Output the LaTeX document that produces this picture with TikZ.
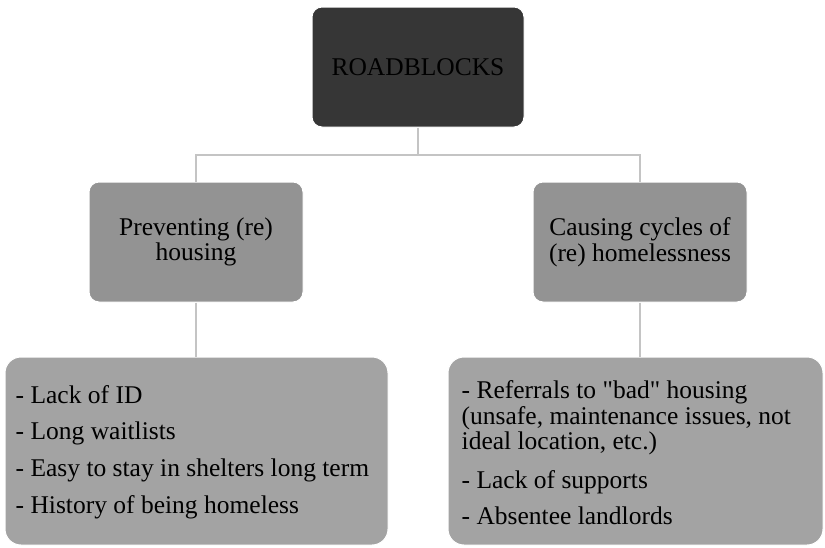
\documentclass[tikz,border=0pt]{standalone}
\usepackage{fontspec}
\setmainfont{Liberation Serif}[Ligatures=TeXOff]
\definecolor{rootfill}{HTML}{363636}
\definecolor{midfill}{HTML}{939393}
\definecolor{leaffill}{HTML}{A3A3A3}
\definecolor{linkgray}{HTML}{C4C4C4}
\tikzset{
  boxfont/.style={font=\fontsize{25.5}{25.5}\selectfont},
  box/.style={rectangle, rounded corners=10pt, draw=white, line width=1pt,
    inner sep=0pt, text=black, boxfont},
  rootbox/.style={box, fill=rootfill, minimum width=212pt, minimum height=120pt},
  midbox/.style={box, fill=midfill, minimum width=214pt, minimum height=120pt, align=center},
  leafbox/.style={box, fill=leaffill, rounded corners=16pt, minimum height=188pt},
  listtext/.style={inner sep=0pt, text=black, align=left, boxfont, anchor=west},
  link/.style={draw=linkgray, line width=1.5pt}
}
\begin{document}
\begin{tikzpicture}[x=1pt, y=-1pt]
  \useasboundingbox (0,0) rectangle (825,547);

  % boxes
  \node[rootbox] (root) at (418,67) {ROADBLOCKS};
  \node[midbox] (prev) at (196,242) {Preventing (re)\\housing};
  \node[midbox] (cause) at (640,242) {Causing cycles of\\(re) homelessness};
  \node[leafbox, minimum width=383pt] (prevlist) at (196.5,451) {};
  \node[leafbox, minimum width=375pt] (causelist) at (635.5,451) {};

  % list texts inside the lower boxes
  \node[listtext] (prevtext) at ([xshift=11pt,yshift=-1pt]prevlist.west)
    {- Lack of ID\\[11.2pt]
     - Long waitlists\\[11.2pt]
     - Easy to stay in shelters long term\\[11.2pt]
     - History of being homeless};
  \node[listtext] (causetext) at ([xshift=14pt,yshift=-2pt]causelist.west)
    {- Referrals to "bad" housing\\
     (unsafe, maintenance issues, not\\
     ideal location, etc.)\\[13pt]
     - Lack of supports\\[11pt]
     - Absentee landlords};

  % tree connectors
  \coordinate (split) at (418,155);
  \draw[link] (root.south) -- (split);
  \draw[link] (prev.north) |- (split) -| (cause.north);
  \draw[link] (prev.south) -- (prev.south |- prevlist.north);
  \draw[link] (cause.south) -- (cause.south |- causelist.north);
\end{tikzpicture}
\end{document}
